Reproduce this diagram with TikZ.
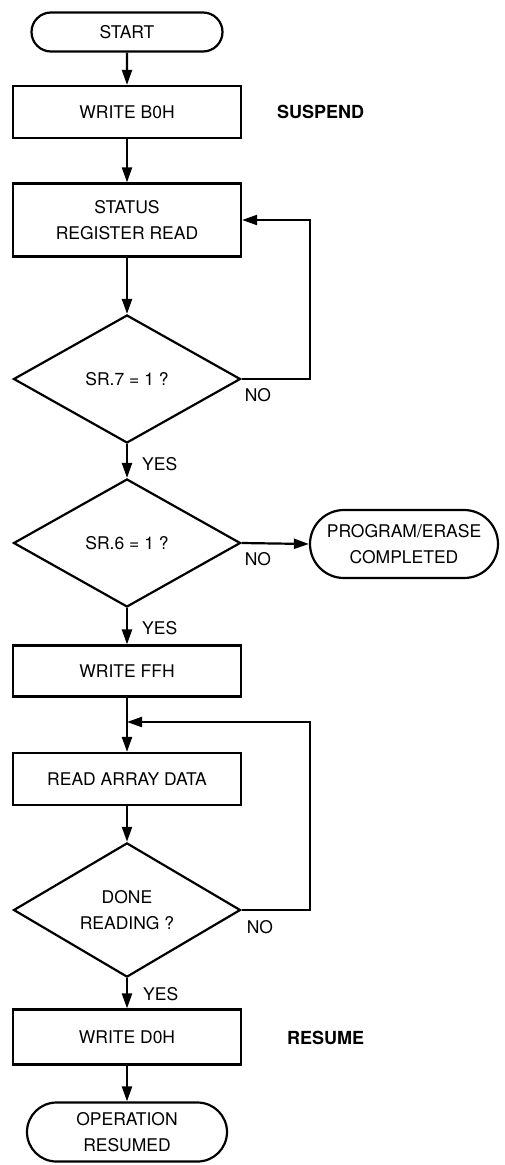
\documentclass[tikz,border=0pt]{standalone}
\usepackage{fontspec}
\setmainfont{TeX Gyre Heros}
\usetikzlibrary{shapes.geometric,shapes.misc,arrows.meta}
\begin{document}
\begin{tikzpicture}[x=1pt,y=-1pt,
  every node/.style={font=\fontsize{17.5}{26.5}\selectfont, align=center},
  flow/.style={line width=2.2pt, -{Triangle[length=15pt,width=10pt]}},
  procbox/.style={draw, line width=2.2pt, rectangle, minimum width=228pt, inner sep=0pt},
  term/.style={draw, line width=2.2pt, rounded rectangle, inner sep=0pt},
  decision/.style={draw, line width=2.2pt, diamond, minimum width=227pt, minimum height=128pt, inner sep=0pt},
  tag/.style={anchor=west, inner sep=0pt},
  side/.style={anchor=west, inner sep=0pt, font=\fontsize{18}{20}\selectfont\bfseries}
]
\useasboundingbox (0,0) rectangle (504,1165);

% main column
\node[term, minimum width=191pt, minimum height=39pt] (start) at (127,32) {START};
\node[procbox, minimum height=52pt] (wb0) at (127,112) {WRITE B0H};
\node[side] (susp) at (277,112) {SUSPEND};
\node[procbox, minimum height=73pt] (srr) at (127,220) {STATUS\\REGISTER READ};
\node[decision] (sr7) at (127,379) {SR.7 = 1 ?};
\node[decision] (sr6) at (127,543) {SR.6 = 1 ?};
\node[term, minimum width=188pt, minimum height=68pt] (pec) at (404,544) {PROGRAM/ERASE\\COMPLETED};
\node[procbox, minimum height=51pt] (wff) at (127,671) {WRITE FFH};
\coordinate (join) at (127,722);
\node[procbox, minimum height=52pt] (rad) at (127,779) {READ ARRAY DATA};
\node[decision] (done) at (127,910) {DONE\\READING ?};
\node[procbox, minimum height=55pt] (wd0) at (127,1037) {WRITE D0H};
\node[side] (res) at (287,1038) {RESUME};
\node[term, minimum width=200pt, minimum height=59pt] (opr) at (127,1132) {OPERATION\\RESUMED};

% x position of the two return loops
\coordinate (loopx) at (310,0);

% forward flow
\draw[flow] (start) -- (wb0);
\draw[flow] (wb0) -- (srr);
\draw[flow] (srr) -- (sr7);
\draw[flow] (sr7) -- (sr6);
\draw[flow] (sr6) -- (wff);
\draw[flow] (wff) -- (rad);
\draw[flow] (rad) -- (done);
\draw[flow] (done) -- (wd0);
\draw[flow] (wd0) -- (opr);
\draw[flow] (sr6.east) -- (pec.west);

% return loops
\draw[flow] (sr7.east) -- (sr7.east -| loopx) |- (srr.east);
\draw[flow] (done.east) -- (done.east -| loopx) |- (join);

% branch labels
\node[tag] (no1) at ([shift={(3,16)}]sr7.east) {NO};
\node[tag] (no2) at ([shift={(3,16)}]sr6.east) {NO};
\node[tag] (no3) at ([shift={(5,17)}]done.east) {NO};
\node[tag] (yes1) at ([shift={(15,20)}]sr7.south) {YES};
\node[tag] (yes2) at ([shift={(15,20)}]sr6.south) {YES};
\node[tag] (yes3) at ([shift={(16,16)}]done.south) {YES};
\end{tikzpicture}
\end{document}
